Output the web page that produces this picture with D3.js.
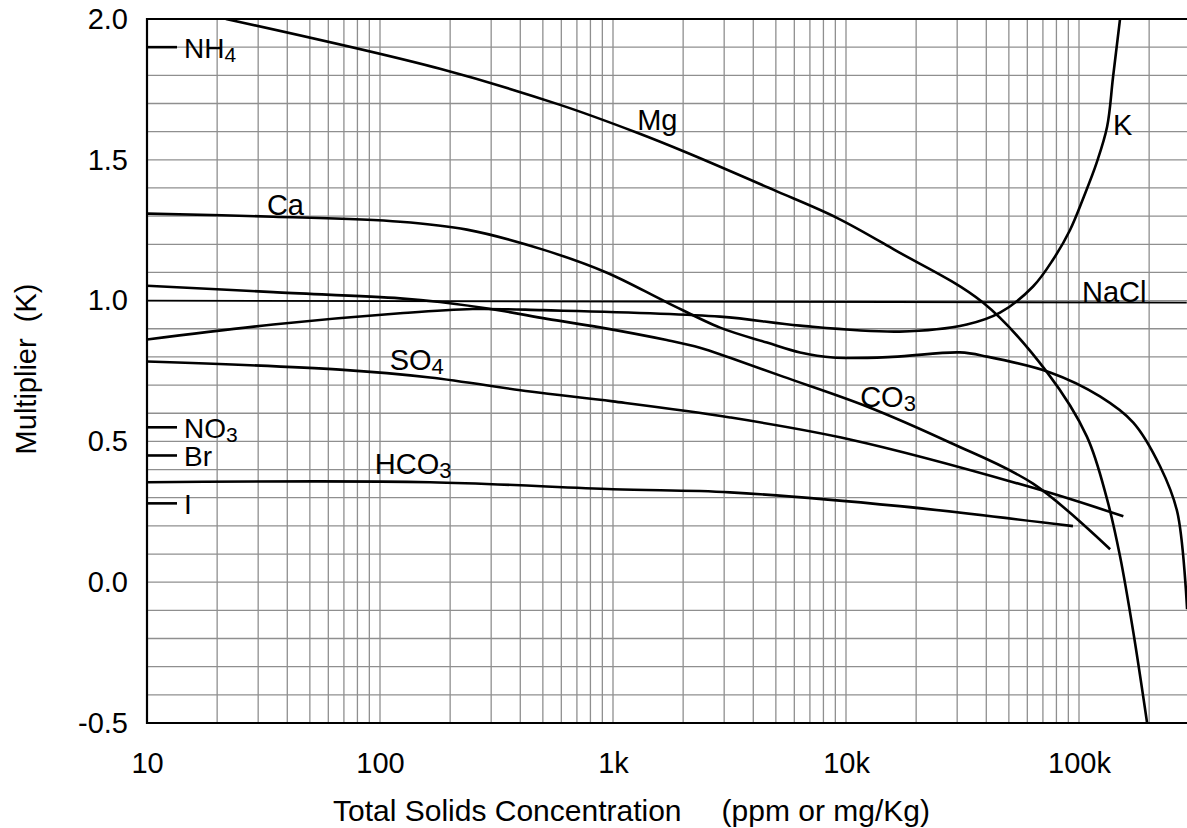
<!DOCTYPE html>
<html>
<head>
<meta charset="utf-8">
<script src="https://cdn.jsdelivr.net/npm/d3@7"></script>
<style>
	body { margin: 0; background: #fff; }
	text { font-family: "Liberation Sans", Arial, Helvetica, sans-serif; fill: #000; }
</style>
</head>
<body>
<div id="chart"></div>
<script>
// axis ticks
const xTicks		= [10, 100, 1000, 10000, 100000];
const xTickLabels	= ['10', '100', '1k', '10k', '100k'];
const yTicks		= [-0.5, 0.0, 0.5, 1.0, 1.5, 2.0];

// curves (ppm, multiplier)
const mgX	= [21.8, 181, 593, 1270, 2080, 4860, 9140, 16100, 38700, 73000, 108000, 132000, 150000, 171000, 196000];
const mgY	= [2.0, 1.823, 1.695, 1.596, 1.525, 1.394, 1.294, 1.181, 0.993, 0.745, 0.518, 0.294, 0.092, -0.177, -0.5];

const caX	= [10, 34.8, 122, 236, 501, 942, 1710, 2880, 4580, 6350, 8790, 15800, 30800, 40300, 75200, 123000, 171000, 223000, 264000, 291000];
const caY	= [1.309, 1.298, 1.28, 1.252, 1.181, 1.099, 0.993, 0.904, 0.851, 0.816, 0.798, 0.800, 0.816, 0.801, 0.745, 0.660, 0.567, 0.411, 0.250, -0.096];

const kX	= [10, 34.8, 122, 250, 500, 2880, 6350, 17000, 33000, 45800, 63500, 77300, 91400, 105000, 119000, 132000, 140000, 150000];
const kY	= [0.862, 0.915, 0.955, 0.970, 0.966, 0.943, 0.911, 0.890, 0.915, 0.957, 1.05, 1.145, 1.25, 1.37, 1.489, 1.617, 1.794, 2.0];

const co3X	= [10, 34.8, 122, 181, 327, 521, 879, 1700, 2360, 3180, 5370, 12300, 27900, 63500, 136000];
const co3Y	= [1.053, 1.03, 1.008, 0.995, 0.965, 0.935, 0.905, 0.86, 0.833, 0.797, 0.730, 0.624, 0.496, 0.35, 0.117];

const so4X	= [10, 67.3, 164, 441, 1000, 3180, 10400, 63500, 155000];
const so4Y	= [0.784, 0.755, 0.727, 0.677, 0.642, 0.585, 0.507, 0.335, 0.234];

const hco3X	= [10, 164, 1000, 3180, 17000, 94200];
const hco3Y	= [0.355, 0.355, 0.330, 0.319, 0.270, 0.199];

const naclX	= [10, 290000];
const naclY	= [1.0, 0.993];

// constant multipliers marked on the left edge
const ionNames	= ['NH4', 'NO3', 'Br', 'I'];
const ionValues	= [1.9, 0.55, 0.45, 0.28];

// curve labels: name, x (ppm), y (baseline)
const labelNames	= ['Mg', 'K', 'Ca', 'NaCl', 'SO4', 'CO3', 'HCO3'];
const labelX		= [1270, 140000, 32.7, 103000, 110, 11500, 95];
const labelY		= [1.606, 1.589, 1.305, 0.996, 0.755, 0.621, 0.383];

const W = 1187, H = 828;
const margin	= { top: 19, right: 0, bottom: 105, left: 147 };

const x = d3.scaleLog()
	.domain([10, Math.pow(10, 5.4635)])
	.range([margin.left, W - margin.right]);

const y = d3.scaleLinear()
	.domain([-0.5, 2.0])
	.range([H - margin.bottom, margin.top]);

const svg = d3.select('#chart').append('svg')
	.attr('width', W)
	.attr('height', H);

svg.append('rect').attr('width', W).attr('height', H).attr('fill', '#fff');

svg.append('clipPath').attr('id', 'plot-clip')
	.append('rect')
		.attr('x', x.range()[0])
		.attr('y', y.range()[1])
		.attr('width', x.range()[1] - x.range()[0])
		.attr('height', y.range()[0] - y.range()[1]);

// grid
let minorX = [];
[10, 100, 1000, 10000, 100000].forEach(d => d3.range(1, 10).forEach(k => {
	let v = d * k;
	if (v > x.domain()[0] && v < x.domain()[1]) minorX.push(v);
}));
let minorY = d3.range(-4, 20).map(i => i / 10);

let grid = svg.append('g').attr('id', 'grid')
	.attr('stroke', '#8f8f8f')
	.attr('stroke-width', 1.3);

grid.selectAll('line.v').data(minorX).enter().append('line')
	.attr('class', 'v')
	.attr('x1', d => x(d)).attr('x2', d => x(d))
	.attr('y1', y(2.0)).attr('y2', y(-0.5));

grid.selectAll('line.h').data(minorY).enter().append('line')
	.attr('class', 'h')
	.attr('x1', x.range()[0]).attr('x2', x.range()[1])
	.attr('y1', d => y(d)).attr('y2', d => y(d));

// frame (left, top, bottom)
svg.append('path')
	.attr('d', 'M' + x.range()[1] + ',' + y(2.0) + 'H' + x.range()[0] + 'V' + y(-0.5) + 'H' + x.range()[1])
	.attr('fill', 'none')
	.attr('stroke', '#000')
	.attr('stroke-width', 2.2);

// axes
let yAxis = svg.append('g')
	.attr('transform', 'translate(' + x.range()[0] + ',0)')
	.call(d3.axisLeft(y).tickValues(yTicks).tickFormat(d => d3.format('.1f')(d).replace('\u2212', '-')).tickSize(0).tickPadding(19));
yAxis.select('.domain').remove();
yAxis.selectAll('text').style('font-size', '29px').attr('fill', '#000');

let xAxis = svg.append('g')
	.attr('transform', 'translate(0,' + y(-0.5) + ')')
	.call(d3.axisBottom(x).tickValues(xTicks).tickFormat((d, i) => xTickLabels[i]).tickSize(0).tickPadding(29));
xAxis.select('.domain').remove();
xAxis.selectAll('text').style('font-size', '29px').attr('fill', '#000');

svg.append('text')
	.attr('x', 333)
	.attr('y', 821)
	.style('font-size', '30px')
	.text('Total Solids Concentration')
	.append('tspan')
		.attr('dx', 40)
		.text('(ppm or mg/Kg)');

svg.append('text')
	.attr('transform', 'translate(36,369)rotate(-90)')
	.attr('text-anchor', 'middle')
	.style('font-size', '29px')
	.style('white-space', 'pre')
	.text('Multiplier  (K)');

// curves
const series = [
	{ name: 'Mg', xs: mgX, ys: mgY, w: 2.6 },
	{ name: 'Ca', xs: caX, ys: caY, w: 2.6 },
	{ name: 'K', xs: kX, ys: kY, w: 2.6 },
	{ name: 'CO3', xs: co3X, ys: co3Y, w: 2.6 },
	{ name: 'SO4', xs: so4X, ys: so4Y, w: 2.6 },
	{ name: 'HCO3', xs: hco3X, ys: hco3Y, w: 2.6 },
	{ name: 'NaCl', xs: naclX, ys: naclY, w: 1.8 }
];

const line = d3.line()
	.x(d => x(d[0]))
	.y(d => y(d[1]))
	.curve(d3.curveCatmullRom.alpha(0.5));

svg.append('g').attr('clip-path', 'url(#plot-clip)')
	.selectAll('path').data(series).enter().append('path')
		.attr('d', s => line(s.xs.map((v, i) => [v, s.ys[i]])))
		.attr('fill', 'none')
		.attr('stroke', '#000')
		.attr('stroke-width', s => s.w)
		.attr('stroke-linejoin', 'round');

// constant markers on the left edge
svg.append('g').selectAll('line').data(ionValues).enter().append('line')
	.attr('x1', x.range()[0]).attr('x2', x.range()[0] + 30)
	.attr('y1', d => y(d)).attr('y2', d => y(d))
	.attr('stroke', '#000')
	.attr('stroke-width', 2.6);

function chemLabel(g, name, px, py, size) {
	let m = name.match(/^(\D+)(\d*)$/);
	let t = g.append('text')
		.attr('x', px)
		.attr('y', py)
		.style('font-size', size + 'px')
		.text(m[1]);
	if (m[2]) {
		t.append('tspan')
			.attr('dy', 4)
			.style('font-size', Math.round(size * 0.75) + 'px')
			.text(m[2]);
	}
}

let labels = svg.append('g').attr('id', 'labels');
ionNames.forEach((n, i) => chemLabel(labels, n, x.range()[0] + 37, y(ionValues[i]) + 11, 28));
labelNames.forEach((n, i) => chemLabel(labels, n, x(labelX[i]), y(labelY[i]), 29));
</script>
</body>
</html>
